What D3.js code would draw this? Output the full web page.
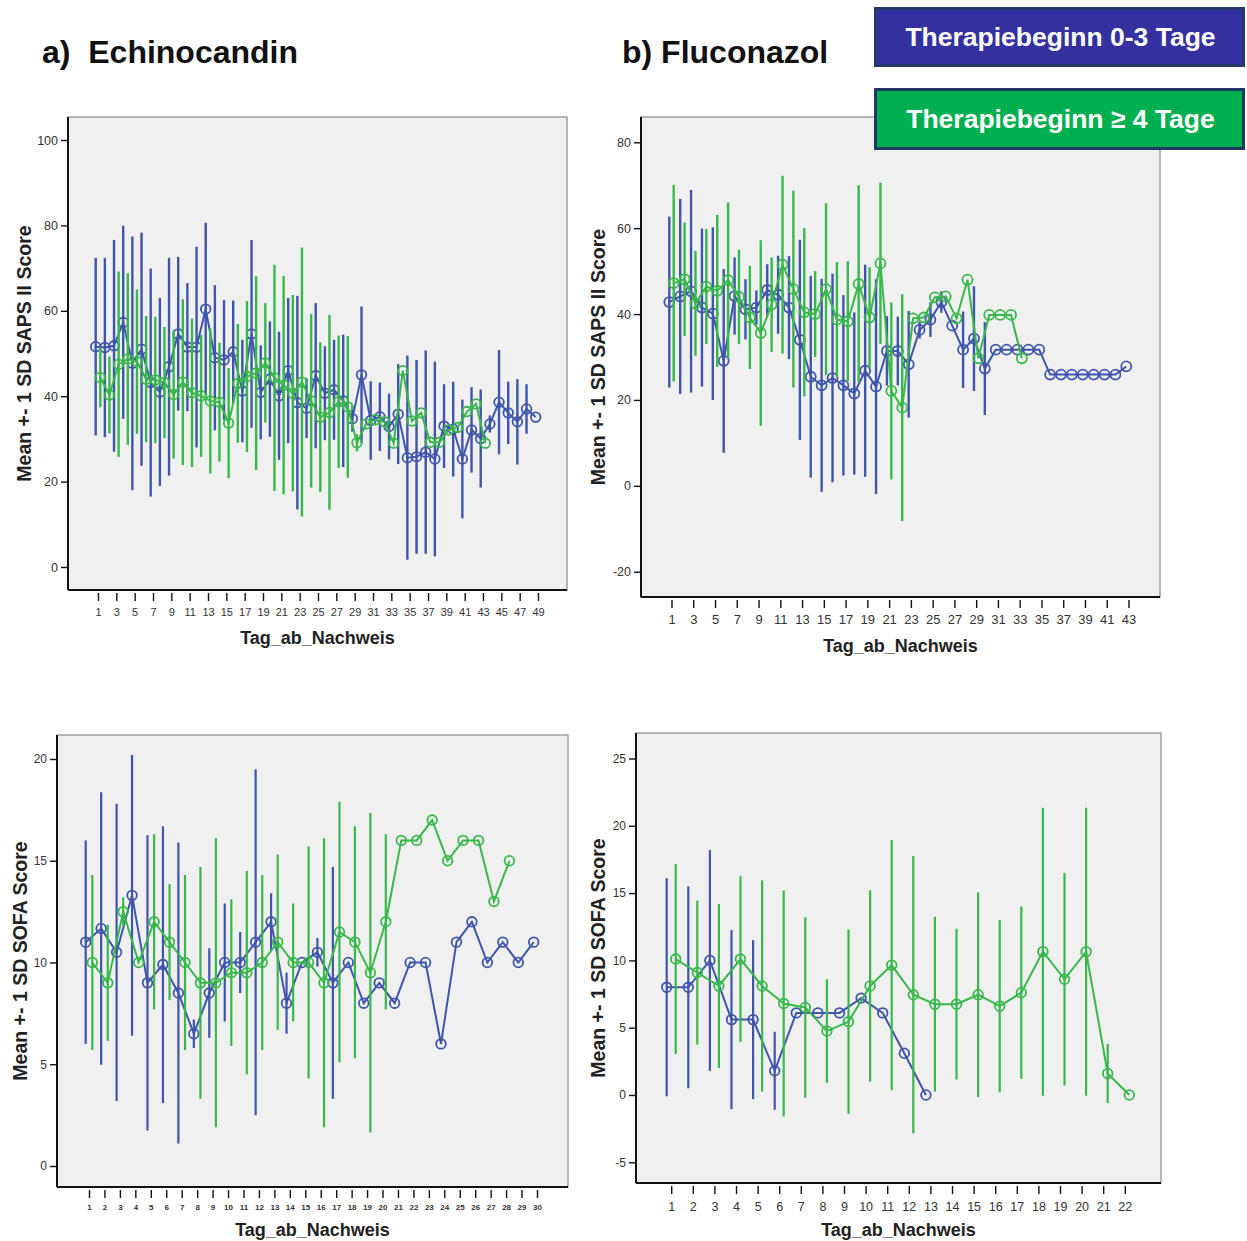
<!DOCTYPE html>
<html><head><meta charset="utf-8">
<script src="https://cdn.jsdelivr.net/npm/d3@7"></script>
<style>
body{margin:0;background:#fff}
svg{display:block}
text{font-family:"Liberation Sans",Arial,Helvetica,sans-serif}
</style>
</head><body>
<svg id="chart" width="1247" height="1241"></svg>
<script>
// ---------------- DATA ----------------
// Panel a) Echinocandin - SAPS II
const aBlueMean = [51.6,51.4,51.8,57.3,47.7,51.0,43.2,41.0,46.9,54.6,51.5,51.5,60.4,49.0,48.5,50.4,41.2,54.6,40.9,44.0,40.1,46.0,38.5,37.2,44.8,40.7,41.5,38.9,34.7,45.0,34.3,35.2,32.9,35.8,25.6,25.8,26.9,25.3,33.0,32.3,25.3,32.1,30.1,33.5,38.6,36.1,34.0,37.0,35.1];
const aBlueSD   = [20.8,21,24.8,22.6,29.7,27.3,26.7,22,25.5,18,15,23.5,20.2,17,14,12,12,22,11,13.5,15,17,25,7,17,11,11.7,15.5,3,16,9.2,8,7.7,11.7,23.9,22.7,23.8,22.8,9.8,11.1,13.9,10,11.5,2,12.2,7.3,10,5.8,0];
const aGreenMean = [44.4,40.3,47.5,48.7,48.1,44.0,43.8,43.2,40.4,43.3,40.8,40.1,38.9,38.6,33.7,43.0,44.6,45.4,47.8,44.3,42.6,40.7,43.3,38.9,35.1,36.2,38.7,37.5,29.1,33.5,34.5,34.0,29.0,46.0,34.2,36.1,29.2,29.2,32.1,32.7,36.4,38.2,29.0];
const aGreenSD   = [7,9,21.7,20.1,16.9,14.8,14.8,13,15,19.4,17.4,14.3,17,13.9,12.9,13.9,17.7,22.7,14,26.5,25.6,23,31.5,20.3,17.5,22.8,15.5,16.6,2,0,0,0,0,0,0,0,0,0,0,0,0,0,0];
const aYTicks = [0,20,40,60,80,100];
const aXTicks = [1,3,5,7,9,11,13,15,17,19,21,23,25,27,29,31,33,35,37,39,41,43,45,47,49];

// Panel b) Fluconazol - SAPS II
const bBlueMean = [42.8,44.1,45.3,41.5,40.1,29.1,44.2,41.1,41.5,45.6,44.5,41.5,34.0,25.4,23.4,25.1,23.4,21.5,26.8,23.1,31.4,31.4,28.3,36.3,38.7,42.8,37.3,31.7,34.3,27.3,31.7,31.7,31.7,31.7,31.7,25.9,25.9,25.9,25.9,25.9,25.9,25.9,27.8];
const bBlueSD   = [19.9,22.7,23.6,18.4,20.1,21.4,9,7,4,6,9.1,12,23.3,23.5,24.8,24.3,21,18.9,24.7,25,8.1,8,12.4,2,4,2.5,0,8.9,12.2,10.8,0,0,0,0,0,0,0,0,0,0,0,0,0];
const bGreenMean = [47.2,48.1,42.5,46.4,45.4,47.9,44.0,39.2,35.6,42.2,51.5,45.8,40.4,40.0,45.8,38.7,38.3,47.0,39.2,51.8,22.1,18.2,39.0,39.2,43.9,44.1,39.0,48.0,29.7,39.8,39.8,39.8,29.7];
const bGreenSD   = [22.9,13.2,12.2,13.4,17.7,18.1,11,12,21.6,11,20.7,22.9,19.6,10,20,13.4,14,23,11.7,18.8,20.6,26.4,0,0,0,0,0,0,0,0,0,0,0];
const bYTicks = [-20,0,20,40,60,80];
const bXTicks = [1,3,5,7,9,11,13,15,17,19,21,23,25,27,29,31,33,35,37,39,41,43];

// Panel c) Echinocandin - SOFA
const cBlueMean = [11,11.67,10.5,13.3,9,9.9,8.5,6.5,8.5,10,10,11,12,8,10,10.5,9,10,8,9,8,10,10,6,11,12,10,11,10,11];
const cBlueSD   = [5,6.7,7.3,6.9,7.25,6.8,7.4,0.7,2.2,2.9,1.5,8.5,1.4,1.5,0,0.7,5.7,0,0,0,0,0,0,0,0,0,0,0,0,0];
const cGreenMean = [10,9,12.5,10,12,11,10,9,9,9.5,9.5,10,11,10,10,9,11.5,11,9.5,12,16,16,17,15,16,16,13,15];
const cGreenSD   = [4.3,2.85,0.7,0,4.3,2.85,4.3,5.7,7.1,3.6,5.0,4.3,4.3,2.9,5.7,7.1,6.4,5.7,7.85,4.3,0,0,0,0,0,0,0,0];
const cYTicks = [0,5,10,15,20];
const cXTicks = [1,2,3,4,5,6,7,8,9,10,11,12,13,14,15,16,17,18,19,20,21,22,23,24,25,26,27,28,29,30];

// Panel d) Fluconazol - SOFA
const dBlueMean = [8,8,10,5.6,5.6,1.8,6.1,6.1,6.1,7.2,6.1,3.1,0];
const dBlueSD   = [8.1,7.5,8.2,6.65,5.9,2.9,0,0,0,0,0,0,0];
const dGreenMean = [10.1,9.1,8.1,10.1,8.1,6.8,6.5,4.75,5.45,8.1,9.65,7.45,6.75,6.75,7.45,6.6,7.6,10.65,8.6,10.65,1.6,0];
const dGreenSD   = [7.05,5.35,6.1,6.15,7.85,8.4,6.7,3.85,6.85,7.1,9.3,10.3,6.5,5.6,7.6,6.4,6.4,10.7,7.9,10.7,2.2,0];
const dYTicks = [-5,0,5,10,15,20,25];
const dXTicks = [1,2,3,4,5,6,7,8,9,10,11,12,13,14,15,16,17,18,19,20,21,22];

const titles = ["a)  Echinocandin","b) Fluconazol"];
const legendLabels = ["Therapiebeginn 0-3 Tage","Therapiebeginn \u2265 4 Tage"];
const xTitle = "Tag_ab_Nachweis";
const yTitleSaps = "Mean +- 1 SD SAPS II Score";
const yTitleSofa = "Mean +- 1 SD SOFA Score";

// ---------------- DRAWING ----------------
const BLUE = "#3e55ab", GREEN = "#38b84a";
const svg = d3.select("#chart");
svg.append("rect").attr("width",1247).attr("height",1241).attr("fill","#fff");

const panels = [
  {frame:[68,117,567,590], yDom:[0,100], yRng:[567,140], xDom:[1,49], xRng:[98,538], off:2.3,
   yTicks:aYTicks, xTicks:aXTicks, yLab:yTitleSaps, yLabX:24, xLabY:644, tickFont:11, yTickFont:12.5, xTickY:616,
   r:4.8, bw:2.4, series:[[aBlueMean,aBlueSD,BLUE,-1],[aGreenMean,aGreenSD,GREEN,1]]},
  {frame:[641,117,1160,597], yDom:[-20,80], yRng:[571.7,142.3], xDom:[1,43], xRng:[671.5,1128.5], off:2.2,
   yTicks:bYTicks, xTicks:bXTicks, yLab:yTitleSaps, yLabX:598, xLabY:652, tickFont:13, yTickFont:12.5, xTickY:624,
   r:5, bw:2.4, series:[[bBlueMean,bBlueSD,BLUE,-1],[bGreenMean,bGreenSD,GREEN,1]]},
  {frame:[57,735,568,1187], yDom:[0,20], yRng:[1166,759], xDom:[1,30], xRng:[89,537], off:3.3,
   yTicks:cYTicks, xTicks:cXTicks, yLab:yTitleSofa, yLabX:20, xLabY:1236, tickFont:8, yTickFont:12, xTickY:1210, boldTicks:true,
   r:4.8, bw:2.2, series:[[cBlueMean,cBlueSD,BLUE,-1],[cGreenMean,cGreenSD,GREEN,1]]},
  {frame:[636,733,1161,1183], yDom:[-5,25], yRng:[1162.3,758.5], xDom:[1,22], xRng:[671.2,1124.8], off:4.5,
   yTicks:dYTicks, xTicks:dXTicks, yLab:yTitleSofa, yLabX:598, xLabY:1236, tickFont:12.5, yTickFont:12, xTickY:1211,
   r:4.8, bw:2.2, series:[[dBlueMean,dBlueSD,BLUE,-1],[dGreenMean,dGreenSD,GREEN,1]]}
];

panels.forEach(p => {
  const [x0,y0,x1,y1] = p.frame;
  const g = svg.append("g");
  g.append("rect").attr("x",x0).attr("y",y0).attr("width",x1-x0).attr("height",y1-y0)
    .attr("fill","#f0f0f0").attr("stroke","#8a8a8a").attr("stroke-width",1.2);
  const x = d3.scaleLinear().domain(p.xDom).range(p.xRng);
  const y = d3.scaleLinear().domain(p.yDom).range(p.yRng);

  // axes
  const ya = g.append("g").attr("transform",`translate(${x0},0)`)
    .call(d3.axisLeft(y).tickValues(p.yTicks).tickFormat(d => String(d)).tickSize(7).tickPadding(3));
  ya.select(".domain").remove();
  ya.selectAll("line").attr("stroke","#111").attr("stroke-width",1.4);
  ya.selectAll("text").attr("font-size",p.yTickFont).attr("fill","#333")
    .style("font-family","'Liberation Sans',Arial,sans-serif");

  const xa = g.append("g").attr("transform",`translate(0,${y1+3})`)
    .call(d3.axisBottom(x).tickValues(p.xTicks).tickFormat(d => String(d)).tickSize(8).tickPadding(3));
  xa.select(".domain").remove();
  xa.selectAll("line").attr("stroke","#111").attr("stroke-width",1.4);
  xa.selectAll("text").attr("font-size",p.tickFont).attr("fill","#333")
    .attr("font-weight",p.boldTicks?"bold":"normal")
    .attr("dy",null).attr("y",p.xTickY-(y1+3))
    .style("font-family","'Liberation Sans',Arial,sans-serif");

  g.append("line").attr("x1",x0).attr("x2",x0).attr("y1",y0).attr("y2",y1).attr("stroke","#111").attr("stroke-width",2);
  g.append("line").attr("x1",x0).attr("x2",x1).attr("y1",y1).attr("y2",y1).attr("stroke","#111").attr("stroke-width",2);

  // series
  p.series.forEach(([means,sds,col,sgn]) => {
    const data = means.map((m,i)=>({day:i+1,m:m,sd:sds[i]}));
    const px = d => x(d.day) + sgn*p.off;
    g.append("g").selectAll("line").data(data.filter(d=>d.sd>0)).join("line")
      .attr("x1",px).attr("x2",px)
      .attr("y1",d=>y(d.m+d.sd)).attr("y2",d=>y(d.m-d.sd))
      .attr("stroke",col).attr("stroke-width",p.bw);
    g.append("path").datum(data)
      .attr("d",d3.line().x(px).y(d=>y(d.m)))
      .attr("fill","none").attr("stroke",col).attr("stroke-width",2);
    g.append("g").selectAll("circle").data(data).join("circle")
      .attr("cx",px).attr("cy",d=>y(d.m)).attr("r",p.r)
      .attr("fill","none").attr("stroke",col).attr("stroke-width",1.8);
  });

  // titles
  g.append("text").attr("x",(x0+x1)/2).attr("y",p.xLabY).attr("text-anchor","middle")
    .attr("font-size",18).attr("font-weight","bold").attr("fill","#222").text(xTitle);
  const cy = (y0+y1)/2;
  g.append("text").attr("transform",`translate(${p.yLabX+7},${cy}) rotate(-90)`)
    .attr("text-anchor","middle").attr("font-size",19.5).attr("font-weight","bold").attr("fill","#222").text(p.yLab);
});

// headings
svg.append("text").attr("x",42).attr("y",63).attr("font-size",32).attr("font-weight","bold").attr("fill","#111")
  .attr("xml:space","preserve").style("white-space","pre").text(titles[0]);
svg.append("text").attr("x",622).attr("y",63).attr("font-size",32).attr("font-weight","bold").attr("fill","#111").text(titles[1]);

// legend boxes
const legend = [
  {y:8.5, h:57, fill:"#3530a0", stroke:"#27396a"},
  {y:89.5, h:59, fill:"#00b050", stroke:"#1f3864"}
];
legend.forEach((l,i) => {
  svg.append("rect").attr("x",875.5).attr("y",l.y).attr("width",368).attr("height",l.h)
    .attr("fill",l.fill).attr("stroke",l.stroke).attr("stroke-width",3);
  svg.append("text").attr("x",1060.5).attr("y",l.y+l.h/2+9).attr("text-anchor","middle")
    .attr("font-size",26.5).attr("font-weight","bold").attr("fill","#fff").text(legendLabels[i]);
});
</script>
</body></html>
